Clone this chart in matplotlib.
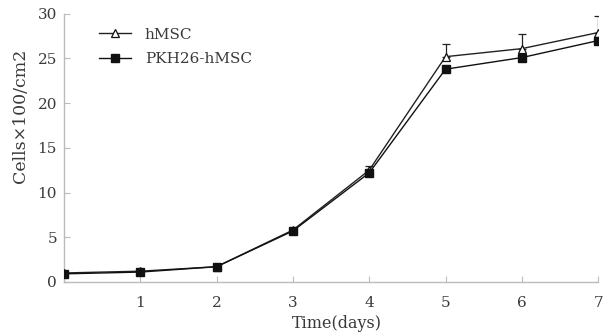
import matplotlib
matplotlib.use("Agg")
import matplotlib.pyplot as plt

days = [0, 1, 2, 3, 4, 5, 6, 7]
hmsc = [1.0, 1.2, 1.7, 5.8, 12.5, 25.2, 26.1, 27.9]
hmsc_err = [0.0, 0.0, 0.0, 0.0, 0.5, 1.4, 1.6, 1.9]
pkh = [0.9, 1.1, 1.7, 5.7, 12.2, 23.8, 25.1, 27.0]
xticks = [1, 2, 3, 4, 5, 6, 7]
yticks = [0, 5, 10, 15, 20, 25, 30]

plt.rcParams['font.family'] = ['DejaVu Serif']
txt = '#3a3a3a'
fig = plt.figure(figsize=(6.03, 3.36), dpi=100)
ax = fig.add_axes([0.106, 0.161, 0.886, 0.798])

ax.errorbar(days, hmsc, yerr=[[0]*len(hmsc_err), hmsc_err], fmt='none',
            ecolor='#222222', elinewidth=0.9, capsize=3, capthick=0.9, zorder=2)
ax.plot(days, hmsc, color='#222222', lw=1.0, marker='^', ms=5.5, mfc='white',
        mec='#111111', mew=0.9, label='hMSC', zorder=3)
ax.plot(days, pkh, color='#111111', lw=1.0, marker='s', ms=5.5, mfc='#111111',
        mec='#111111', label='PKH26-hMSC', zorder=4)

ax.set_xlim(0, 7)
ax.set_ylim(0, 30)
ax.set_xticks(xticks)
ax.set_yticks(yticks)
for s in ['top', 'right']:
    ax.spines[s].set_visible(False)
for s in ['left', 'bottom']:
    ax.spines[s].set_color('#bbbbbb')
    ax.spines[s].set_linewidth(1.0)
ax.tick_params(direction='in', length=4, color='#bbbbbb', labelcolor=txt, labelsize=11)
ax.tick_params(axis='x', pad=10)
ax.tick_params(axis='y', pad=5)
ax.set_xlabel('Time(days)', color=txt, fontsize=11.5)
ax.xaxis.set_label_coords(0.51, -0.125)
ax.set_ylabel('Cells×100/cm2', color=txt, fontsize=12.5)
ax.yaxis.set_label_coords(-0.065, 0.62)
ax.legend(loc='upper left', bbox_to_anchor=(0.04, 1.0), frameon=False, fontsize=11,
          handlelength=2.1, labelspacing=0.7, handletextpad=0.9, labelcolor=txt)

fig.savefig('out.png', dpi=100)
